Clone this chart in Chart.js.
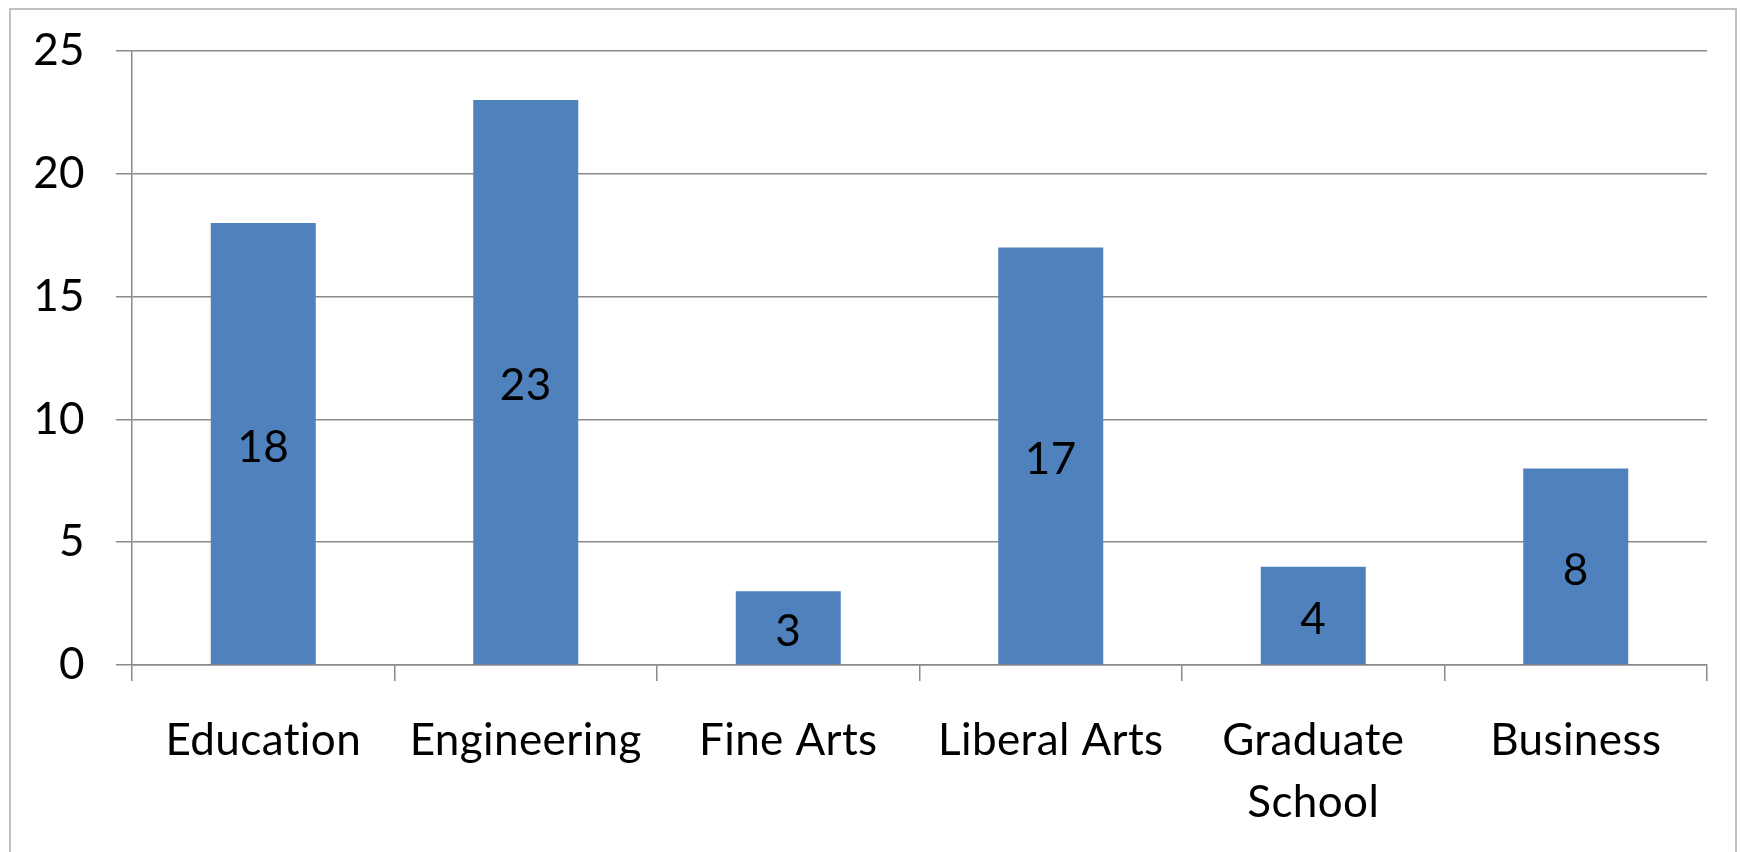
<!DOCTYPE html>
<html>
<head>
<meta charset="utf-8">
<script src="https://cdn.jsdelivr.net/npm/chart.js@4/dist/chart.umd.min.js"></script>
<style>
  html, body { margin: 0; padding: 0; background: #fff; }
  #wrap { position: relative; width: 1741px; height: 852px; overflow: hidden; }
  #frame { position: absolute; left: 9px; top: 8px; width: 1724px; height: 900px;
           border: 2px solid #c0c0c0; pointer-events: none; }
</style>
</head>
<body>
<div id="wrap">
  <canvas id="chart" width="1741" height="852"></canvas>
  <div id="frame"></div>
</div>
<script>
const categories = ['Education', 'Engineering', 'Fine Arts', 'Liberal Arts', ['Graduate', 'School'], 'Business'];
const counts = [18, 23, 3, 17, 4, 8];
const yTicks = [0, 5, 10, 15, 20, 25];

const FONT = 'Lato, "Open Sans", sans-serif';
const FONT_SIZE = 44;
const gridColor = '#8a8a8a';

// a little letter spacing keeps Lato from joining "ti" into a ligature
const spacing = {
    id: 'spacing',
    beforeDraw(chart) { chart.ctx.letterSpacing = '0.4px'; }
};

// write each value in the middle of its bar
const barLabels = {
    id: 'barLabels',
    afterDatasetsDraw(chart) {
        const ctx = chart.ctx;
        const meta = chart.getDatasetMeta(0);
        ctx.save();
        ctx.font = FONT_SIZE + 'px ' + FONT;
        ctx.fillStyle = '#000';
        ctx.textAlign = 'center';
        ctx.textBaseline = 'middle';
        meta.data.forEach((bar, i) => {
            ctx.fillText(String(counts[i]), bar.x, (bar.y + bar.base) / 2 + 4);
        });
        ctx.restore();
    }
};

const ctx = document.getElementById('chart').getContext('2d');
new Chart(ctx, {
    type: 'bar',
    data: {
        labels: categories,
        datasets: [{
            data: counts,
            backgroundColor: '#4f81bd',
            borderWidth: 0,
            barPercentage: 0.4,
            categoryPercentage: 1
        }]
    },
    options: {
        responsive: false,
        animation: false,
        layout: { padding: { top: 51, right: 34, left: 0, bottom: 0 } },
        plugins: {
            legend: { display: false },
            tooltip: { enabled: false }
        },
        scales: {
            x: {
                grid: {
                    drawOnChartArea: false,
                    drawTicks: true,
                    tickLength: 16,
                    color: gridColor,
                    lineWidth: 1.5
                },
                border: { color: gridColor, width: 1.5 },
                ticks: {
                    color: '#000',
                    font: { family: FONT, size: FONT_SIZE, lineHeight: 1.4 },
                    padding: 29,
                    maxRotation: 0,
                    autoSkip: false
                },
                afterFit(scale) { scale.height = 187; }
            },
            y: {
                min: 0,
                max: 25,
                afterBuildTicks(scale) {
                    scale.ticks = yTicks.map(v => ({ value: v }));
                },
                grid: {
                    color: gridColor,
                    lineWidth: 1.5,
                    tickLength: 16
                },
                border: { color: gridColor, width: 1.5 },
                ticks: {
                    color: '#000',
                    font: { family: FONT, size: FONT_SIZE },
                    padding: 31
                },
                afterFit(scale) {
                    scale.width = 132;
                    scale.paddingTop = 0;
                    scale.paddingBottom = 0;
                }
            }
        }
    },
    plugins: [spacing, barLabels]
});
</script>
</body>
</html>
